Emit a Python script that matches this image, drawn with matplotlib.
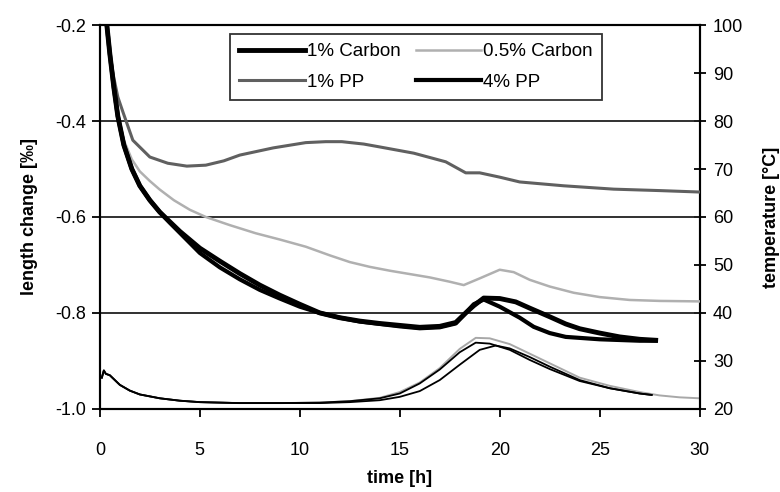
import matplotlib.pyplot as plt

plt.rcParams['font.family'] = ['Liberation Sans', 'DejaVu Sans']

# length change [per mille] vs time [h]
t_c1 = [0.35, 0.5, 0.7, 0.9, 1.2, 1.6, 2.0, 2.5, 3.0, 3.5, 4.0, 5.0, 6.0, 7.0, 8.0, 9.0, 10.0, 11.0,
        12.0, 13.0, 14.0, 15.0, 16.0, 17.0, 17.8, 18.3, 18.7, 19.2, 20.0, 20.8, 21.5, 22.5, 23.3,
        24.0, 25.0, 26.0, 27.0, 27.8]
len_c1 = [-0.2, -0.26, -0.33, -0.39, -0.45, -0.5, -0.535, -0.565, -0.59, -0.61, -0.63, -0.665,
          -0.692, -0.718, -0.742, -0.763, -0.782, -0.8, -0.81, -0.817, -0.822, -0.826, -0.83,
          -0.828, -0.82, -0.8, -0.785, -0.769, -0.77, -0.777, -0.79, -0.808, -0.823, -0.833,
          -0.842, -0.85, -0.855, -0.857]

t_pp4 = [0.35, 0.5, 0.7, 0.9, 1.2, 1.6, 2.0, 2.5, 3.0, 3.5, 4.0, 5.0, 6.0, 7.0, 8.0, 9.0, 10.0,
         11.0, 12.0, 13.0, 14.0, 15.0, 16.0, 17.0, 17.8, 18.3, 18.7, 19.2, 20.0, 21.0, 21.7, 22.5,
         23.3, 25.0, 27.0, 27.8]
len_pp4 = [-0.2, -0.26, -0.33, -0.39, -0.45, -0.5, -0.535, -0.565, -0.59, -0.612, -0.633, -0.675,
           -0.705, -0.73, -0.752, -0.77, -0.787, -0.8, -0.81, -0.818, -0.823, -0.828, -0.832,
           -0.83, -0.822, -0.8, -0.782, -0.772, -0.787, -0.81, -0.829, -0.842, -0.85, -0.855,
           -0.858, -0.858]

t_c05 = [0.35, 0.5, 0.7, 0.9, 1.2, 1.6, 2.0, 2.5, 3.0, 3.7, 4.5, 5.3, 6.5, 7.8, 9.0, 10.3, 11.5,
         12.5, 13.5, 14.5, 15.5, 16.5, 17.5, 18.2, 19.0, 20.0, 20.7, 21.5, 22.5, 23.7, 25.0, 26.5,
         28.0, 30.0]
len_c05 = [-0.2, -0.26, -0.33, -0.39, -0.44, -0.48, -0.505, -0.525, -0.543, -0.565, -0.585, -0.6,
           -0.617, -0.634, -0.647, -0.662, -0.68, -0.694, -0.704, -0.712, -0.719, -0.726, -0.735,
           -0.742, -0.728, -0.71, -0.715, -0.731, -0.745, -0.758, -0.767, -0.773, -0.775, -0.776]

t_pp1 = [0.35, 0.5, 0.7, 0.9, 1.17, 1.65, 2.5, 3.4, 4.35, 5.3, 6.2, 7.0, 8.67, 10.3, 11.3, 12.1,
         13.2, 14.0, 15.7, 17.3, 18.3, 19.0, 20.0, 21.0, 23.2, 25.7, 28.0, 30.0]
len_pp1 = [-0.2, -0.26, -0.31, -0.35, -0.383, -0.44, -0.475, -0.488, -0.494, -0.492, -0.483,
           -0.471, -0.456, -0.445, -0.443, -0.443, -0.448, -0.454, -0.467, -0.485, -0.508, -0.508,
           -0.517, -0.527, -0.535, -0.542, -0.545, -0.548]

# temperature [degC] vs time [h]
t_temp_c05 = [0.1, 0.2, 0.3, 0.5, 1.0, 1.5, 2.0, 3.0, 4.0, 5.0, 7.0, 9.0, 11.0, 12.5, 14.0, 15.0,
              16.0, 17.0, 18.0, 18.8, 19.5, 20.5, 21.5, 22.5, 24.0, 25.5, 27.0, 28.0, 29.0, 30.0]
temp_c05 = [26.5, 28.0, 27.3, 27.0, 25.0, 23.8, 23.0, 22.2, 21.7, 21.4, 21.2, 21.2, 21.3, 21.6,
            22.3, 23.5, 25.5, 28.5, 32.5, 34.8, 34.7, 33.5, 31.5, 29.5, 26.5, 24.8, 23.5, 22.8,
            22.4, 22.2]

t_temp_a = [0.1, 0.2, 0.3, 0.5, 1.0, 1.5, 2.0, 3.0, 4.0, 5.0, 7.0, 9.0, 11.0, 12.5, 14.0, 15.0,
            16.0, 17.0, 18.0, 18.8, 19.5, 20.5, 21.5, 22.5, 24.0, 25.5, 27.0, 27.6]
temp_a = [26.5, 28.0, 27.3, 27.0, 25.0, 23.8, 23.0, 22.2, 21.7, 21.4, 21.2, 21.2, 21.3, 21.6,
          22.2, 23.2, 25.3, 28.2, 31.8, 33.8, 33.6, 32.3, 30.2, 28.3, 25.8, 24.3, 23.2, 22.9]

t_temp_b = [0.1, 0.2, 0.3, 0.5, 1.0, 1.5, 2.0, 3.0, 4.0, 5.0, 7.0, 9.0, 11.0, 12.5, 14.0, 15.0,
            16.0, 17.0, 18.0, 19.0, 19.8, 20.5, 21.5, 22.5, 24.0, 25.5, 27.0, 27.6]
temp_b = [26.5, 28.0, 27.3, 27.0, 25.0, 23.8, 23.0, 22.2, 21.7, 21.4, 21.2, 21.2, 21.2, 21.4,
          21.8, 22.5, 23.7, 26.0, 29.2, 32.3, 33.2, 32.6, 30.8, 28.8, 26.0, 24.3, 23.2, 22.9]

fig = plt.figure(figsize=(7.8, 4.92), dpi=100)
ax = fig.add_axes([0.128, 0.169, 0.769, 0.780])
ax2 = ax.twinx()

l_c1, = ax.plot(t_c1, len_c1, color='black', lw=3.5, label='1% Carbon', zorder=4)
l_c05, = ax.plot(t_c05, len_c05, color='#b0b0b0', lw=1.8, label='0.5% Carbon', zorder=3)
l_pp1, = ax.plot(t_pp1, len_pp1, color='#606060', lw=2.2, label='1% PP', zorder=3)
l_pp4, = ax.plot(t_pp4, len_pp4, color='black', lw=3.0, label='4% PP', zorder=4)

ax2.plot(t_temp_c05, temp_c05, color='#a8a8a8', lw=1.4)
ax2.plot(t_temp_a, temp_a, color='black', lw=1.3)
ax2.plot(t_temp_b, temp_b, color='black', lw=1.3)

ax.set_xlim(0, 30)
ax.set_ylim(-1.0, -0.2)
ax2.set_ylim(20, 100)
ax.set_xticks(range(0, 31, 5))
ax.set_yticks([-1.0, -0.8, -0.6, -0.4, -0.2])
ax.set_yticklabels(['-1.0', '-0.8', '-0.6', '-0.4', '-0.2'])
ax2.set_yticks(range(20, 101, 10))

for y in [-0.4, -0.6, -0.8]:
    ax.axhline(y, color='#202020', lw=1.3, zorder=1)

for a in (ax, ax2):
    for s in a.spines.values():
        s.set_linewidth(1.5)
        s.set_color('black')

ax.tick_params(axis='x', direction='out', length=6, width=1.3, pad=18, labelsize=13)
ax.tick_params(axis='y', direction='out', length=6, width=1.3, pad=4, labelsize=13)
ax2.tick_params(axis='y', direction='inout', length=9, width=1.3, pad=5, labelsize=13)

ax.set_xlabel('time [h]', fontsize=13, fontweight='bold', labelpad=8)
ax.set_ylabel('length change [‰]', fontsize=13, fontweight='bold', labelpad=12)
ax2.set_ylabel('temperature [°C]', fontsize=13, fontweight='bold', labelpad=14)

# matplotlib fills legend columns first
handles = [l_c1, l_pp1, l_c05, l_pp4]
leg = ax.legend(handles, [h.get_label() for h in handles], loc='upper left',
                bbox_to_anchor=(0.217, 0.977), ncol=2, fontsize=13.5,
                frameon=True, fancybox=False, handlelength=3.5, handletextpad=0.1,
                columnspacing=0.8, borderpad=0.5, labelspacing=0.7, borderaxespad=0)
leg.get_frame().set_edgecolor('black')
leg.get_frame().set_linewidth(1.3)
leg.set_zorder(10)
ax.set_zorder(ax2.get_zorder() + 1)
ax.patch.set_visible(False)

fig.savefig('out.png', dpi=100)
